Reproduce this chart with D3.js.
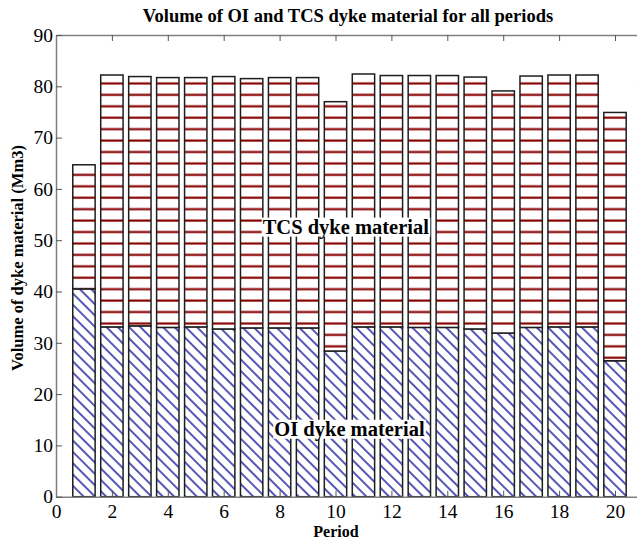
<!DOCTYPE html>
<html>
<head>
<meta charset="utf-8">
<script src="https://cdn.jsdelivr.net/npm/d3@7"></script>
<style>
  html, body { margin: 0; padding: 0; background: #fff; }
  svg { display: block; }
  text { font-family: "Liberation Serif", "Times New Roman", serif; }
</style>
</head>
<body>
<svg id="chart" width="637" height="540"></svg>
<script>
// Period numbers along the x axis
const periods = [1, 2, 3, 4, 5, 6, 7, 8, 9, 10, 11, 12, 13, 14, 15, 16, 17, 18, 19, 20];
// OI dyke material volume per period (Mm3), bottom of each stack
const oiVolume = [40.5, 33.1, 33.3, 33.0, 33.1, 32.7, 32.9, 32.9, 32.9, 28.4,
                  33.1, 33.1, 33.0, 33.0, 32.7, 31.9, 33.0, 33.1, 33.1, 26.5];
// TCS dyke material volume per period (Mm3), stacked on top of OI
const tcsVolume = [24.2, 49.1, 48.6, 48.7, 48.6, 49.2, 48.6, 48.8, 48.8, 48.6,
                   49.3, 49.0, 49.1, 49.1, 49.1, 47.2, 49.0, 49.1, 49.1, 48.4];
// Axis ticks
const xTicks = [0, 2, 4, 6, 8, 10, 12, 14, 16, 18, 20];
const yTicks = [0, 10, 20, 30, 40, 50, 60, 70, 80, 90];

const svg = d3.select("#chart");

const plotLeft = 56, plotTop = 35, plotBottom = 496.7;
const unitX = 27.95;

const x = d3.scaleLinear().domain([0, 21]).range([plotLeft, plotLeft + 21 * unitX]);
const y = d3.scaleLinear().domain([0, 90]).range([plotBottom, plotTop]);

// Hatch patterns
const defs = svg.append("defs");

const red = defs.append("pattern")
  .attr("id", "tcsHatch")
  .attr("patternUnits", "userSpaceOnUse")
  .attr("width", 40).attr("height", 11.43);
red.append("rect").attr("width", 40).attr("height", 11.43).attr("fill", "#fff");
red.append("rect").attr("x", 0).attr("y", 2.1).attr("width", 40).attr("height", 2.6)
  .attr("fill", "#e3b4b4");
red.append("rect").attr("x", 0).attr("y", 2.5).attr("width", 40).attr("height", 1.9)
  .attr("fill", "#850000");

const blue = defs.append("pattern")
  .attr("id", "oiHatch")
  .attr("patternUnits", "userSpaceOnUse")
  .attr("width", 8).attr("height", 8)
  .attr("patternTransform", "rotate(-45)");
blue.append("rect").attr("width", 8).attr("height", 8).attr("fill", "#fff");
blue.append("line")
  .attr("x1", 4).attr("y1", -1).attr("x2", 4).attr("y2", 9)
  .attr("stroke", "#10109a").attr("stroke-width", 1.4);

// Stack the two series
const rows = periods.map((p, i) => ({ period: p, oi: oiVolume[i], tcs: tcsVolume[i] }));
const stacked = d3.stack().keys(["oi", "tcs"])(rows);
const fills = { oi: "url(#oiHatch)", tcs: "url(#tcsHatch)" };

const barW = 0.8;
svg.append("g").selectAll("g")
  .data(stacked)
  .join("g")
  .attr("fill", d => fills[d.key])
  .selectAll("rect")
  .data(d => d)
  .join("rect")
  .attr("x", d => x(d.data.period - barW / 2))
  .attr("width", x(barW) - x(0))
  .attr("y", d => y(d[1]))
  .attr("height", d => y(d[0]) - y(d[1]))
  .attr("stroke", "#1e1e1e")
  .attr("stroke-width", 1.5);

// Axes box (ticks pointing inward)
const axisColor = "#808080";
const gx = svg.append("g").attr("transform", `translate(0,${plotBottom})`)
  .call(d3.axisBottom(x).tickValues(xTicks).tickSizeInner(-6).tickSizeOuter(0).tickPadding(7));
const gxTop = svg.append("g").attr("transform", `translate(0,${plotTop})`)
  .call(d3.axisTop(x).tickValues(xTicks).tickSizeInner(-6).tickSizeOuter(0).tickFormat(""));
const gy = svg.append("g").attr("transform", `translate(${plotLeft},0)`)
  .call(d3.axisLeft(y).tickValues(yTicks).tickSizeInner(-6).tickSizeOuter(0).tickPadding(3));
const gyRight = svg.append("g").attr("transform", `translate(${x(21)},0)`)
  .call(d3.axisRight(y).tickValues(yTicks).tickSizeInner(-6).tickSizeOuter(0).tickFormat(""));

[gx, gxTop, gy, gyRight].forEach(g => {
  g.select(".domain").attr("stroke", axisColor).attr("stroke-width", 1.5);
  g.selectAll(".tick line").attr("stroke", "#555").attr("stroke-width", 1);
  g.selectAll(".tick text")
    .attr("fill", "#000")
    .style("font-family", '"Liberation Serif", serif')
    .style("font-size", "19.5px");
});

// Title and axis labels
svg.append("text")
  .attr("x", 348).attr("y", 22)
  .attr("text-anchor", "middle")
  .style("font-size", "18.5px").style("font-weight", "bold")
  .text("Volume of OI and TCS dyke material for all periods");

svg.append("text")
  .attr("x", 336).attr("y", 537)
  .attr("text-anchor", "middle")
  .style("font-size", "16px").style("font-weight", "bold")
  .text("Period");

svg.append("text")
  .attr("transform", "translate(23,258) rotate(-90)")
  .attr("text-anchor", "middle")
  .style("font-size", "16.5px").style("font-weight", "bold")
  .text("Volume of dyke material (Mm3)");

// In-plot labels on a white background
function boxedLabel(px, py, label) {
  const g = svg.append("g");
  const rect = g.append("rect").attr("fill", "#fff");
  const t = g.append("text")
    .attr("x", x(px)).attr("y", y(py))
    .attr("text-anchor", "middle")
    .attr("dominant-baseline", "middle")
    .style("font-size", "20.5px").style("font-weight", "bold")
    .text(label);
  const b = t.node().getBBox();
  rect.attr("x", b.x - 1).attr("y", b.y + 2).attr("width", b.width + 2).attr("height", b.height - 4);
}
boxedLabel(10.37, 52.2, "TCS dyke material");
boxedLabel(10.5, 12.8, "OI dyke material");
</script>
</body>
</html>
